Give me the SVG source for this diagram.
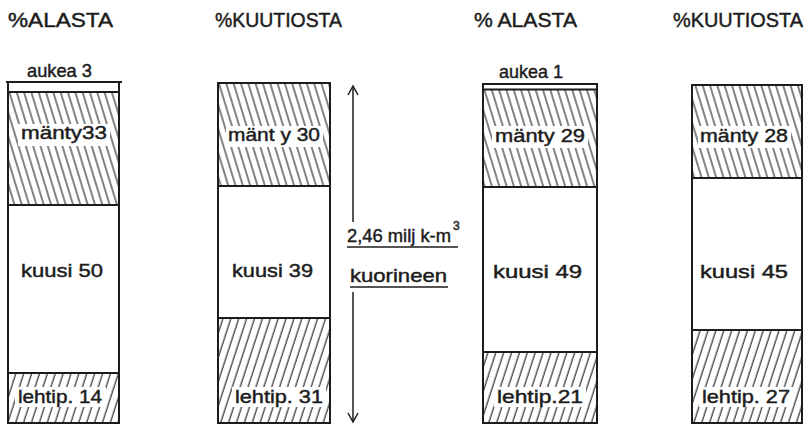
<svg xmlns="http://www.w3.org/2000/svg" width="811" height="425" viewBox="0 0 811 425">
<style>
.t{font-family:"Liberation Sans",Arial,sans-serif;fill:#1c1c1c;stroke:#1c1c1c;stroke-width:0.45}
.h{font-size:20px}
.l{font-size:18.5px}
.bx{fill:none;stroke:#1c1c1c;stroke-width:2}
.dv{stroke:#1c1c1c;stroke-width:2}
.w{fill:#fff}
.ln{stroke:#1c1c1c;stroke-width:1.5;fill:none}
</style>
<defs>
<pattern id="pine" width="7" height="20" patternUnits="userSpaceOnUse" patternTransform="rotate(-17)">
<line x1="3" y1="-1" x2="3" y2="21" stroke="#1c1c1c" stroke-width="1.1"/>
</pattern>
<pattern id="leaf" width="7.5" height="20" patternUnits="userSpaceOnUse" patternTransform="rotate(18)">
<line x1="3" y1="-1" x2="3" y2="21" stroke="#1c1c1c" stroke-width="1.1"/>
</pattern>
<marker id="ah" markerWidth="12" markerHeight="12" refX="10" refY="6" orient="auto" markerUnits="userSpaceOnUse">
<path d="M1,1 L10,6 L1,11" fill="none" stroke="#1c1c1c" stroke-width="1.5"/>
</marker>
</defs>
<rect width="811" height="425" fill="#fff"/>

<g id="headers">
<text class="t h" x="8" y="27" textLength="105" lengthAdjust="spacingAndGlyphs">%ALASTA</text>
<text class="t h" x="215" y="27" textLength="127" lengthAdjust="spacingAndGlyphs">%KUUTIOSTA</text>
<text class="t h" x="474" y="27" textLength="103" lengthAdjust="spacingAndGlyphs">% ALASTA</text>
<text class="t h" x="673" y="27" textLength="130" lengthAdjust="spacingAndGlyphs">%KUUTIOSTA</text>
</g>

<g id="bar1">
<text class="t l" x="27" y="77" textLength="65" lengthAdjust="spacingAndGlyphs">aukea 3</text>
<rect x="8" y="92" width="111" height="113" fill="url(#pine)"/>
<rect class="w" x="18" y="124" width="92" height="22"/>
<text class="t l" x="21" y="139" textLength="86" lengthAdjust="spacingAndGlyphs">mänty33</text>
<text class="t l" x="21" y="277" textLength="82" lengthAdjust="spacingAndGlyphs">kuusi 50</text>
<rect x="8" y="373" width="111" height="50" fill="url(#leaf)"/>
<rect class="w" x="15" y="387" width="91" height="20"/>
<text class="t l" x="18" y="403" textLength="84" lengthAdjust="spacingAndGlyphs">lehtip. 14</text>
<line class="dv" x1="6" y1="82" x2="122" y2="82"/>
<line class="dv" x1="8" y1="92" x2="119" y2="92"/>
<line class="dv" x1="8" y1="205" x2="119" y2="205"/>
<line class="dv" x1="8" y1="373" x2="119" y2="373"/>
<rect class="bx" x="8" y="82" width="111" height="341"/>
</g>

<g id="bar2">
<rect x="218" y="83" width="112" height="103" fill="url(#pine)"/>
<rect class="w" x="226" y="126" width="97" height="21"/>
<text class="t l" x="228" y="141" textLength="92" lengthAdjust="spacingAndGlyphs">mänt y 30</text>
<text class="t l" x="232" y="277" textLength="81" lengthAdjust="spacingAndGlyphs">kuusi 39</text>
<rect x="218" y="318" width="112" height="105" fill="url(#leaf)"/>
<rect class="w" x="232" y="387" width="94" height="20"/>
<text class="t l" x="235" y="403" textLength="88" lengthAdjust="spacingAndGlyphs">lehtip. 31</text>
<line class="dv" x1="218" y1="186" x2="330" y2="186"/>
<line class="dv" x1="218" y1="318" x2="330" y2="318"/>
<rect class="bx" x="218" y="83" width="112" height="340"/>
</g>

<g id="connectors">
<line class="ln" x1="353" y1="222" x2="353" y2="86" marker-end="url(#ah)"/>
<line class="ln" x1="353" y1="292" x2="353" y2="422" marker-end="url(#ah)"/>
</g>

<g id="total">
<text class="t l" x="347" y="242" textLength="104" lengthAdjust="spacingAndGlyphs">2,46 milj k-m</text>
<text class="t" x="453" y="230" font-size="12">3</text>
<line x1="347" y1="247" x2="458" y2="247" stroke="#1c1c1c" stroke-width="1.3"/>
<text class="t l" x="350" y="282" textLength="97" lengthAdjust="spacingAndGlyphs">kuorineen</text>
<line x1="350" y1="287" x2="448" y2="287" stroke="#1c1c1c" stroke-width="1.3"/>
</g>

<g id="bar3">
<text class="t l" x="499" y="78" textLength="64" lengthAdjust="spacingAndGlyphs">aukea 1</text>
<rect x="483" y="89.5" width="114" height="97.5" fill="url(#pine)"/>
<rect class="w" x="492" y="126" width="96" height="22"/>
<text class="t l" x="495" y="142" textLength="90" lengthAdjust="spacingAndGlyphs">mänty 29</text>
<text class="t l" x="493" y="278" textLength="89" lengthAdjust="spacingAndGlyphs">kuusi 49</text>
<rect x="483" y="352" width="114" height="71" fill="url(#leaf)"/>
<rect class="w" x="494" y="387" width="92" height="20"/>
<text class="t l" x="497" y="403" textLength="86" lengthAdjust="spacingAndGlyphs">lehtip.21</text>
<line class="dv" x1="483" y1="89.5" x2="597" y2="89.5"/>
<line class="dv" x1="483" y1="187" x2="597" y2="187"/>
<line class="dv" x1="483" y1="352" x2="597" y2="352"/>
<rect class="bx" x="483" y="84" width="114" height="339"/>
</g>

<g id="bar4">
<rect x="692" y="85" width="110" height="93" fill="url(#pine)"/>
<rect class="w" x="698" y="126" width="93" height="22"/>
<text class="t l" x="700" y="142" textLength="88" lengthAdjust="spacingAndGlyphs">mänty 28</text>
<text class="t l" x="700" y="278" textLength="88" lengthAdjust="spacingAndGlyphs">kuusi 45</text>
<rect x="692" y="330" width="110" height="93" fill="url(#leaf)"/>
<rect class="w" x="699" y="387" width="94" height="20"/>
<text class="t l" x="702" y="403" textLength="88" lengthAdjust="spacingAndGlyphs">lehtip. 27</text>
<line class="dv" x1="692" y1="178" x2="802" y2="178"/>
<line class="dv" x1="692" y1="330" x2="802" y2="330"/>
<rect class="bx" x="692" y="85" width="110" height="338"/>
</g>
</svg>
